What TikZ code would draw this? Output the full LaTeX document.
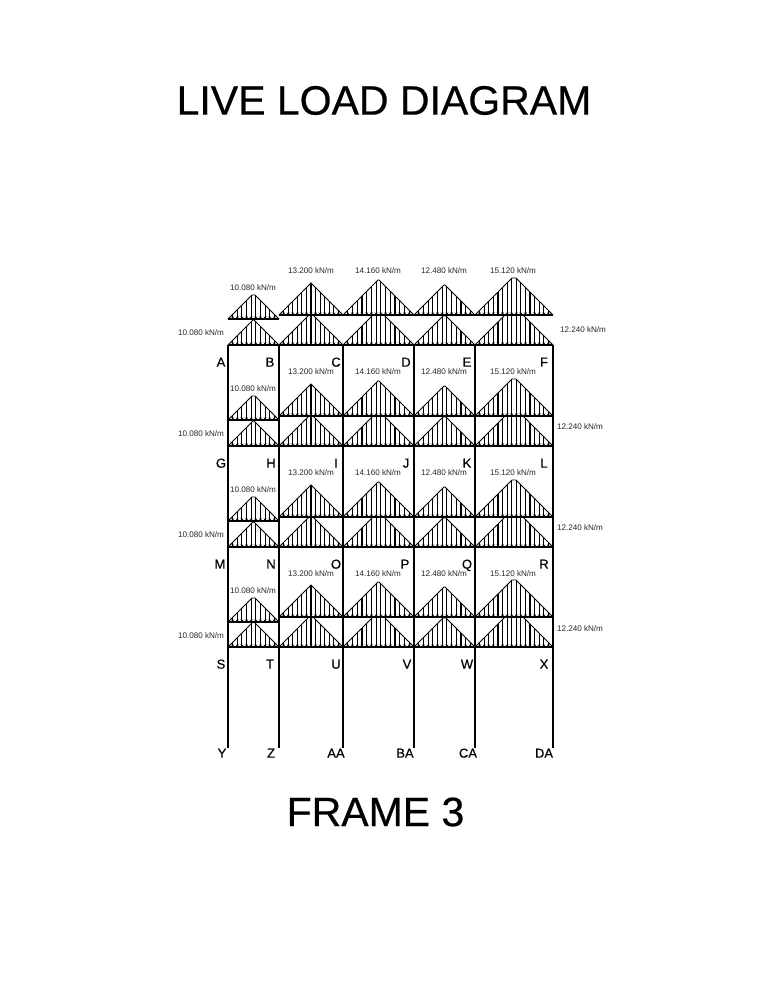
\documentclass[tikz,border=0pt]{standalone}
\usepackage{fontspec}
\setmainfont{Liberation Sans}
\newfontfamily\heavyfont[RawFeature={embolden=0.5}]{Liberation Sans}
\usetikzlibrary{arrows.meta}

\tikzset{
  member/.style={line width=1.2pt,black},
  loadedge/.style={line width=0.9pt,black},
  hatch/.style={line width=1.15pt,black,-{Stealth[length=2.5pt,width=2.8pt]}},
  joint/.style={font=\heavyfont\fontsize{13}{13}\selectfont,inner sep=0pt,text height=9.3pt,text depth=0pt,text=black},
  loadlabel/.style={font=\fontsize{8.1}{8.1}\selectfont,inner sep=0pt,text=black!85},
  title/.style={font=\heavyfont\fontsize{41}{41}\selectfont,inner sep=0pt}
}

% one load block: left x, right x, base y, height
\newcommand{\loadblock}[4]{
  \pgfmathsetmacro{\spanw}{#2-#1}
  \pgfmathsetmacro{\legdx}{min(#4,\spanw/2)}
  \pgfmathsetmacro{\slope}{#4/\legdx}
  \pgfmathtruncatemacro{\nhatch}{round(\spanw/5)}
  \foreach \k in {1,...,\nhatch}{
    \pgfmathsetmacro{\xk}{#1+\k*\spanw/(\nhatch+1)}
    \pgfmathsetmacro{\hk}{min(#4,\slope*min(\xk-#1,#2-\xk))}
    \draw[hatch] (\xk,#3-\hk) -- (\xk,#3);
  }
  \draw[member] (#1,#3) -- (#2,#3);
  \draw[loadedge] (#1,#3) -- (#1+\legdx,#3-#4) -- (#2-\legdx,#3-#4) -- (#2,#3);
}

\begin{document}
\begin{tikzpicture}[x=1pt,y=-1pt]
  \useasboundingbox (0,0) rectangle (768,992);

  \node[title] (live) at (384,100.5) {LIVE LOAD DIAGRAM};
  \node[title] (frame) at (375.5,812) {FRAME 3};

  % joints
  \foreach \name/\x in {A/228,B/279,C/343,D/414,E/475,F/553}
    \coordinate (j\name) at (\x,345);
  \foreach \name/\x in {G/228,H/279,I/343,J/414,K/475,L/553}
    \coordinate (j\name) at (\x,446);
  \foreach \name/\x in {M/228,N/279,O/343,P/414,Q/475,R/553}
    \coordinate (j\name) at (\x,547);
  \foreach \name/\x in {S/228,T/279,U/343,V/414,W/475,X/553}
    \coordinate (j\name) at (\x,647);
  \foreach \name/\x in {Y/228,Z/279,AA/343,BA/414,CA/475,DA/553}
    \coordinate (j\name) at (\x,748);

  % frame
  \foreach \top/\bot in {A/Y,B/Z,C/AA,D/BA,E/CA,F/DA}
    \draw[member] (j\top) -- (j\bot);
  \foreach \lft/\rgt in {A/F,G/L,M/R,S/X}
    \draw[member] (j\lft) -- (j\rgt);

  % loads, floor by floor
  \foreach \yb/\ym/\ys in {345/315/319,446/416/420,547/517/521,647/617/622}{
    \loadblock{228}{279}{\yb}{25}
    \loadblock{279}{343}{\yb}{30}
    \loadblock{343}{414}{\yb}{30}
    \loadblock{414}{475}{\yb}{29}
    \loadblock{475}{553}{\yb}{30}
    \loadblock{228}{279}{\ys}{24}
    \loadblock{279}{343}{\ym}{32}
    \loadblock{343}{414}{\ym}{35}
    \loadblock{414}{475}{\ym}{30}
    \loadblock{475}{553}{\ym}{37}
  }

  % joint names
  \node[joint] (A) at (221,362) {A};
  \node[joint] (B) at (270,362) {B};
  \node[joint] (C) at (336,362) {C};
  \node[joint] (D) at (406,362) {D};
  \node[joint] (E) at (467,362) {E};
  \node[joint] (F) at (544,362) {F};
  \node[joint] (G) at (221,463) {G};
  \node[joint] (H) at (271,463) {H};
  \node[joint] (I) at (336,463) {I};
  \node[joint] (J) at (406,463) {J};
  \node[joint] (K) at (467,463) {K};
  \node[joint] (L) at (544,463) {L};
  \node[joint] (M) at (220,564) {M};
  \node[joint] (N) at (271,564) {N};
  \node[joint] (O) at (336,564) {O};
  \node[joint] (P) at (405,564) {P};
  \node[joint] (Q) at (467,564) {Q};
  \node[joint] (R) at (544,564) {R};
  \node[joint] (S) at (221,664) {S};
  \node[joint] (T) at (270,664) {T};
  \node[joint] (U) at (336,664) {U};
  \node[joint] (V) at (407,664) {V};
  \node[joint] (W) at (467,664) {W};
  \node[joint] (X) at (544,664) {X};
  \node[joint] (Y) at (222,753) {Y};
  \node[joint] (Z) at (271,753) {Z};
  \node[joint] (AA) at (336,753) {AA};
  \node[joint] (BA) at (405,753) {BA};
  \node[joint] (CA) at (468,753) {CA};
  \node[joint] (DA) at (544,753) {DA};

  % load values
  \foreach \n/\yt/\ys/\yl/\yr/\xr in {1/271/288/333/330/583,2/372/389/434/427/580,3/473/490/535/528/580,4/574/591/636/629/580}{
    \node[loadlabel] (c\n) at (311,\yt) {13.200 kN/m};
    \node[loadlabel] (d\n) at (378,\yt) {14.160 kN/m};
    \node[loadlabel] (e\n) at (444,\yt) {12.480 kN/m};
    \node[loadlabel] (f\n) at (513,\yt) {15.120 kN/m};
    \node[loadlabel] (b\n) at (253,\ys) {10.080 kN/m};
    \node[loadlabel] (a\n) at (201,\yl) {10.080 kN/m};
    \node[loadlabel] (r\n) at (\xr,\yr) {12.240 kN/m};
  }
\end{tikzpicture}
\end{document}
